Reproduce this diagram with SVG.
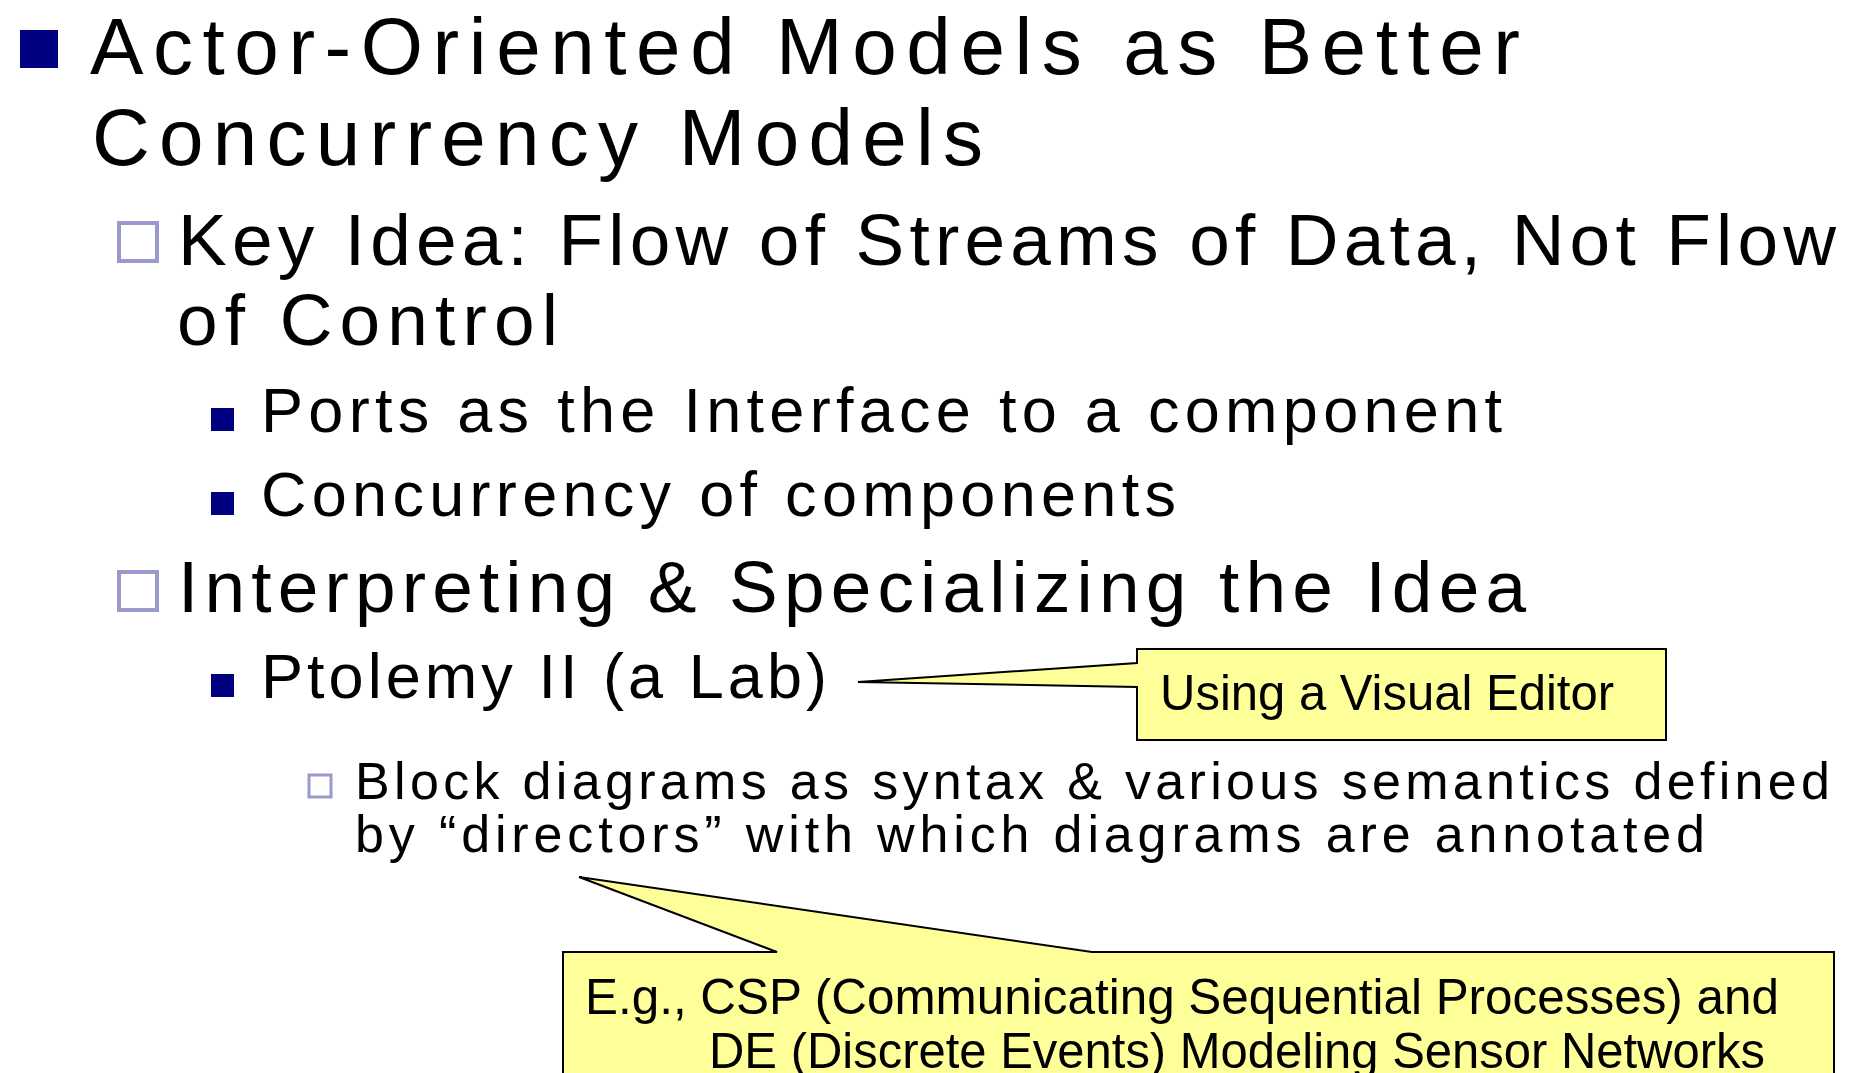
<svg xmlns="http://www.w3.org/2000/svg" width="1853" height="1073" viewBox="0 0 1853 1073">
  <style>
    .hand { font-family: "Liberation Sans", "DejaVu Sans", sans-serif; fill: #000; }
    .l1 { font-size: 80px; }
    .l2 { font-size: 73px; }
    .l3 { font-size: 63px; }
    .l4 { font-size: 52px; }
    .note { font-family: "Liberation Sans", Arial, sans-serif; font-size: 50px; fill: #000; }
    .solid { fill: #000080; }
    .hollow { fill: none; stroke: #9999CC; }
    .callout { fill: #FFFF99; stroke: #000; stroke-width: 2; stroke-linejoin: miter; }
  </style>

  <rect width="1853" height="1073" fill="#ffffff"/>

  <!-- Level 1 heading -->
  <g id="heading">
    <rect class="solid" x="20" y="30" width="38" height="38"/>
    <text class="hand l1" x="90" y="74" textLength="1430" lengthAdjust="spacing">Actor-Oriented Models as Better</text>
    <text class="hand l1" x="92" y="165" textLength="891" lengthAdjust="spacing">Concurrency Models</text>
  </g>

  <!-- Level 2: key idea -->
  <g id="key-idea">
    <rect class="hollow" x="119" y="223" width="38" height="38" stroke-width="4"/>
    <text class="hand l2" x="178" y="265" textLength="1658" lengthAdjust="spacing">Key Idea: Flow of Streams of Data, Not Flow</text>
    <text class="hand l2" x="177" y="345" textLength="381" lengthAdjust="spacing">of Control</text>
  </g>

  <!-- Level 3 items under the key idea -->
  <g id="ports">
    <rect class="solid" x="211" y="408" width="23" height="23"/>
    <text class="hand l3" x="261" y="432" textLength="1241" lengthAdjust="spacing">Ports as the Interface to a component</text>
  </g>
  <g id="concurrency">
    <rect class="solid" x="211" y="492" width="23" height="23"/>
    <text class="hand l3" x="261" y="516" textLength="915" lengthAdjust="spacing">Concurrency of components</text>
  </g>

  <!-- Level 2: interpreting -->
  <g id="interpreting">
    <rect class="hollow" x="119" y="572" width="38" height="38" stroke-width="4"/>
    <text class="hand l2" x="178" y="612" textLength="1348" lengthAdjust="spacing">Interpreting &amp; Specializing the Idea</text>
  </g>

  <g id="ptolemy">
    <rect class="solid" x="211" y="674" width="23" height="23"/>
    <text class="hand l3" x="261" y="698" textLength="566" lengthAdjust="spacing">Ptolemy II (a Lab)</text>
  </g>

  <!-- Level 4: block diagrams -->
  <g id="block-diagrams">
    <rect class="hollow" x="309" y="775" width="22" height="22" stroke-width="3"/>
    <text class="hand l4" x="355" y="799" textLength="1475" lengthAdjust="spacing">Block diagrams as syntax &amp; various semantics defined</text>
    <text class="hand l4" x="355" y="852" textLength="1350" lengthAdjust="spacing">by “directors” with which diagrams are annotated</text>
  </g>

  <!-- Callout: visual editor -->
  <g id="callout-editor">
    <path class="callout" d="M1137,649 H1666 V740 H1137 V687 L858,682 L1137,663 Z"/>
    <text class="note" x="1160" y="710" textLength="454" lengthAdjust="spacingAndGlyphs">Using a Visual Editor</text>
  </g>

  <!-- Callout: director examples -->
  <g id="callout-directors">
    <path class="callout" d="M563,952 H777 L579,877 L1092,952 H1834 V1130 H563 Z"/>
    <text class="note" x="585" y="1014" textLength="1194" lengthAdjust="spacingAndGlyphs">E.g., CSP (Communicating Sequential Processes) and</text>
    <text class="note" x="709" y="1068" textLength="1056" lengthAdjust="spacingAndGlyphs">DE (Discrete Events) Modeling Sensor Networks</text>
  </g>
</svg>
